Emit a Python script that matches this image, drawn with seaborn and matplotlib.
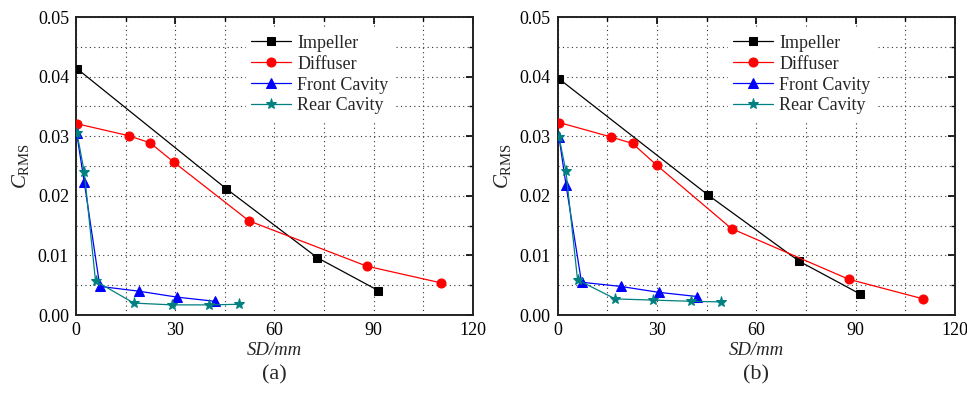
import numpy as np
import pandas as pd
import matplotlib
matplotlib.use("Agg")
import matplotlib.pyplot as plt
import seaborn as sns
from matplotlib.ticker import MultipleLocator

# data
series_names = ["Impeller", "Diffuser", "Front Cavity", "Rear Cavity"]

imp_x_a = [0.4, 45.4, 73.0, 91.4]
imp_y_a = [0.0413, 0.0212, 0.0096, 0.0041]
dif_x_a = [0.3, 15.9, 22.4, 29.7, 52.3, 87.9, 110.3]
dif_y_a = [0.0321, 0.0301, 0.0289, 0.0256, 0.0158, 0.0082, 0.0054]
fro_x_a = [0.2, 2.5, 7.2, 19.0, 30.5, 42.0]
fro_y_a = [0.0305, 0.0223, 0.0048, 0.0040, 0.0030, 0.0023]
rea_x_a = [0.3, 2.5, 5.9, 17.5, 28.9, 40.3, 49.4]
rea_y_a = [0.0305, 0.0240, 0.0057, 0.0020, 0.0017, 0.0017, 0.0018]

imp_x_b = [0.5, 45.5, 73.0, 91.4]
imp_y_b = [0.0396, 0.0201, 0.0090, 0.0035]
dif_x_b = [0.5, 16.0, 22.6, 30.0, 52.5, 87.9, 110.4]
dif_y_b = [0.0323, 0.0299, 0.0288, 0.0251, 0.0145, 0.0060, 0.0027]
fro_x_b = [0.4, 2.5, 7.2, 19.0, 30.6, 42.1]
fro_y_b = [0.0299, 0.0219, 0.0055, 0.0048, 0.0038, 0.0031]
rea_x_b = [0.4, 2.5, 6.0, 17.4, 28.9, 40.4, 49.4]
rea_y_b = [0.0299, 0.0241, 0.0059, 0.0027, 0.0025, 0.0023, 0.0022]

panel_labels = ["(a)", "(b)"]

colors = ["black", "red", "blue", "#008080"]
markers = ["s", "o", "^", "*"]
msizes = [5.5, 6.5, 6.5, 8]

sns.set_theme(style="white")
plt.rcParams["font.family"] = ["Liberation Serif", "DejaVu Serif"]
plt.rcParams["mathtext.fontset"] = "custom"
plt.rcParams["mathtext.rm"] = "Liberation Serif"
plt.rcParams["mathtext.it"] = "Liberation Serif:italic"

fig = plt.figure(figsize=(9.67, 3.94), dpi=100)
ax_a = fig.add_axes([0.0786, 0.2005, 0.4105, 0.756])
ax_b = fig.add_axes([0.5767, 0.2005, 0.4110, 0.756])

panels = [
    (ax_a, [(imp_x_a, imp_y_a), (dif_x_a, dif_y_a), (fro_x_a, fro_y_a), (rea_x_a, rea_y_a)]),
    (ax_b, [(imp_x_b, imp_y_b), (dif_x_b, dif_y_b), (fro_x_b, fro_y_b), (rea_x_b, rea_y_b)]),
]

for i, (ax, data) in enumerate(panels):
    for name, (xs, ys), c, m, ms in zip(series_names, data, colors, markers, msizes):
        df = pd.DataFrame({"x": xs, "y": ys})
        sns.lineplot(data=df, x="x", y="y", ax=ax, color=c, marker=m,
                     markersize=ms, markeredgecolor=c, linewidth=0.9,
                     sort=False, label=name, zorder=3)
    ax.set_xlim(0, 120)
    ax.set_ylim(0, 0.05)
    ax.xaxis.set_major_locator(MultipleLocator(30))
    ax.xaxis.set_minor_locator(MultipleLocator(15))
    ax.yaxis.set_major_locator(MultipleLocator(0.01))
    ax.yaxis.set_minor_locator(MultipleLocator(0.005))
    ax.yaxis.set_major_formatter(matplotlib.ticker.FormatStrFormatter("%.2f"))
    ax.grid(True, which="both", color="#333333", linestyle=(0, (1, 3)), linewidth=0.8)
    ax.set_axisbelow(True)
    ax.tick_params(which="both", direction="in", top=True, right=True,
                   labelsize=13, colors="black")
    ax.tick_params(which="major", length=5, width=1.2, pad=5)
    ax.tick_params(which="minor", length=3, width=1.0)
    for sp in ax.spines.values():
        sp.set_color("#222222")
        sp.set_linewidth(1.4)
    ax.set_xlabel("SD/mm", fontsize=13.5, fontstyle="italic", labelpad=2)
    ax.set_ylabel(r"$C_{\mathrm{RMS}}$", fontsize=15, labelpad=5)
    leg = ax.legend(loc="upper left", bbox_to_anchor=(0.405, 0.99), fontsize=13,
                    frameon=True, framealpha=1.0, edgecolor="white",
                    handlelength=2.2, handletextpad=0.35, labelspacing=0.22,
                    borderpad=0.3, fancybox=False)
    leg.get_frame().set_linewidth(0)
    ax.text(0.5, -0.20, panel_labels[i], transform=ax.transAxes,
            ha="center", va="center", fontsize=16)

fig.savefig("out.png", dpi=100)
